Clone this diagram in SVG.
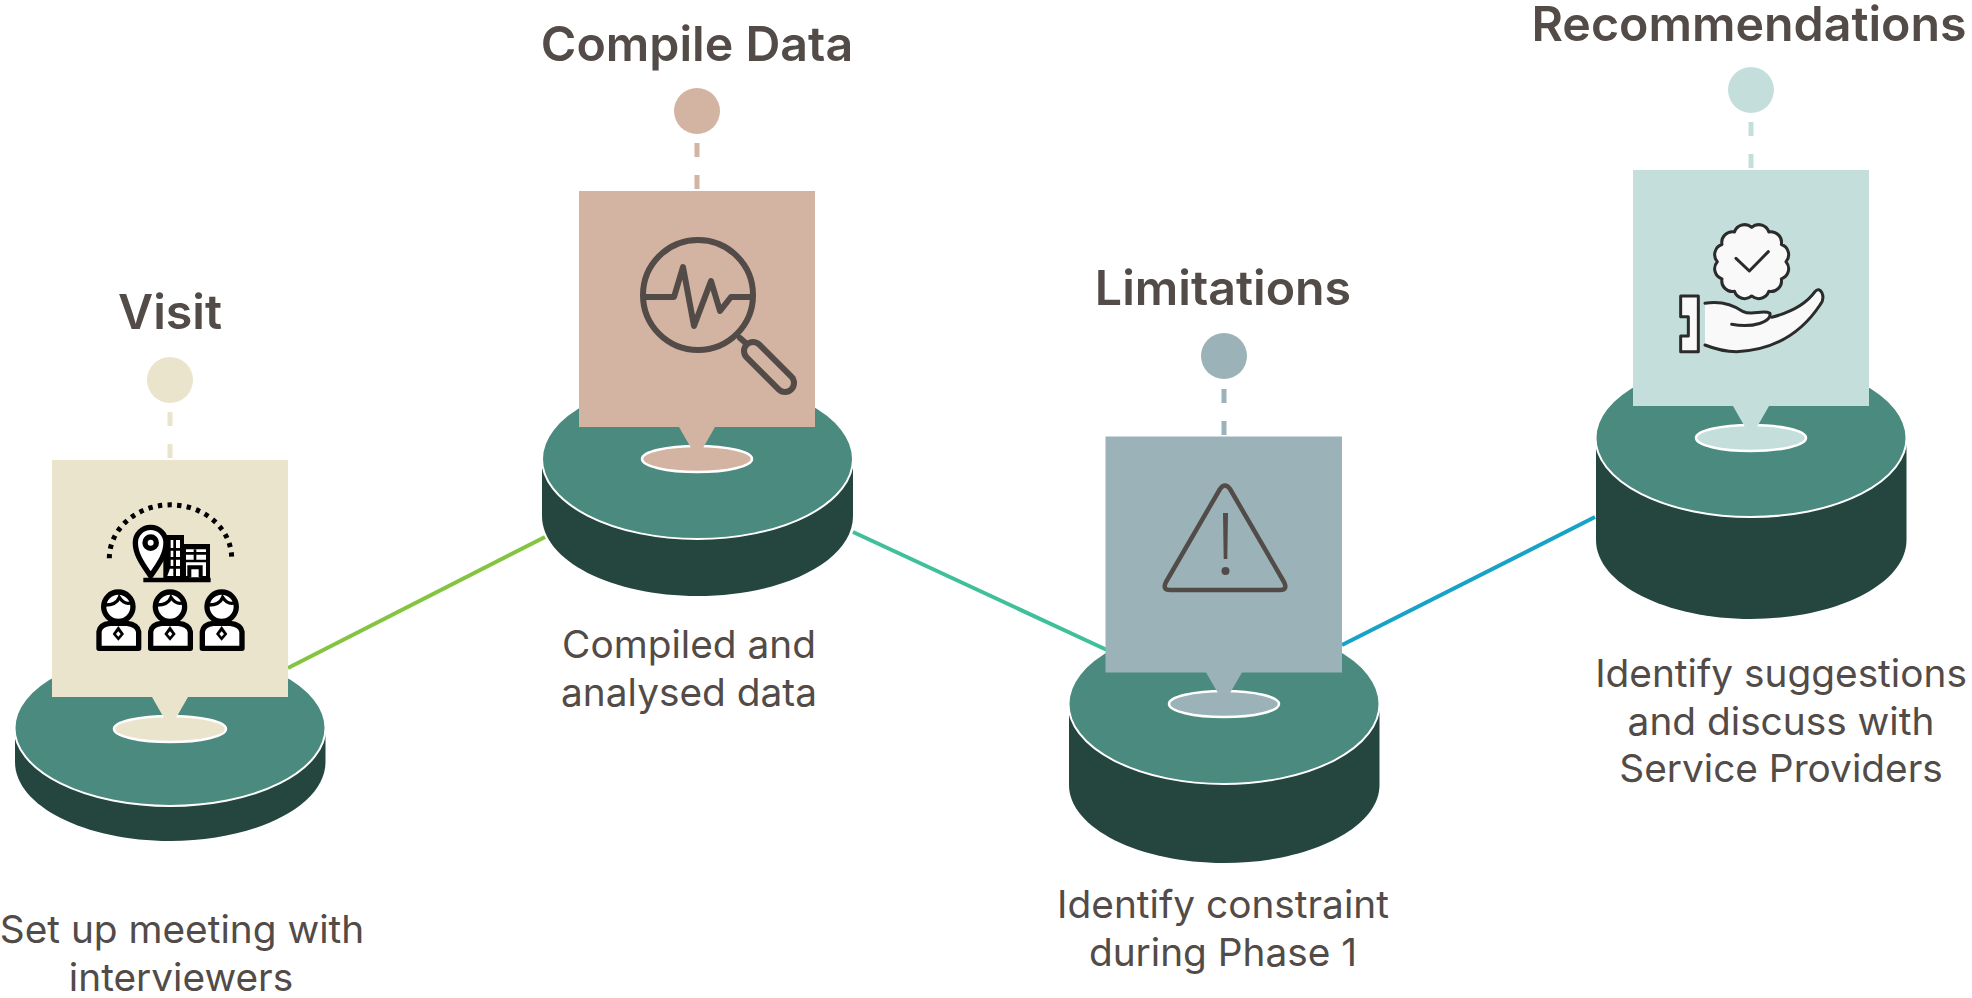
<svg xmlns="http://www.w3.org/2000/svg" width="1972" height="998" viewBox="0 0 1972 998">
<style>
text{font-family:Inter,"Open Sans","Liberation Sans",sans-serif;fill:#524b47;text-anchor:middle}
.t{font-size:48.300px;font-weight:600}
.b{font-size:38.800px;font-weight:400}
.side{fill:#25453f}
.top{fill:#4b8a7f;stroke:#fff;stroke-width:2}
.sm{stroke:#fff;stroke-width:2.5}
.dash{stroke-width:5;stroke-dasharray:14 18;fill:none}
.ln{fill:none;stroke-width:4}
.ic{fill:none;stroke:#524b47;stroke-linecap:round;stroke-linejoin:round}
.k{stroke:#000;stroke-width:16;fill:#fff;stroke-linejoin:round}
.h{stroke:#2b2b2b;stroke-width:9;fill:#f9f9f9;stroke-linejoin:round;stroke-linecap:round}
</style>
<defs>
<g id="person"><circle cx="115" cy="350" r="44" class="k"/><path d="M75 345C95 345 112 338 118 322C128 337 142 343 155 338" style="fill:none;stroke:#000;stroke-width:10"/><path d="M57 475V425Q60 403 90 400H140Q172 403 176 425V475Z" class="k"/><path d="M115 408L132 432L115 452L98 432Z" fill="#000"/><path d="M115 424L122 432L115 440L108 432Z" fill="#fff"/></g>
</defs>
<g id="connectors">
<path class="ln" stroke="#84c441" d="M288 668L545 537"/>
<path class="ln" stroke="#40c09a" d="M853 532L1107 650"/>
<path class="ln" stroke="#17a2c8" d="M1342 645L1595 517"/>
</g>
<g id="visit">
<path class="side" d="M15 728V762C15 806 85 841 170 841S325.500 806 325.500 762V728Z"/>
<ellipse class="top" cx="170" cy="728" rx="155.500" ry="78"/>
<line class="dash" x1="170" y1="412" x2="170" y2="460" stroke="#ebe4cc"/>
<circle cx="170" cy="380" r="23" fill="#ebe4cc"/>
<ellipse class="sm" cx="170" cy="729" rx="56" ry="13" fill="#ebe4cc"/>
<path fill="#ebe4cc" d="M52 460H288V697H188L176 718V722H164V718L152 697H52Z"/>
<g transform="translate(80 490) scale(.3333)">
<path d="M88 205A183 160 0 0 1 455 205" fill="none" stroke="#000" stroke-width="15" stroke-dasharray="13 16"/>
<path d="M250 135H312V162H390V272H250Z" fill="#000"/>
<path d="M272 150H300V258H262L272 230ZM318 178H378V258H318Z" fill="#fff"/>
<path d="M284 150V258M262 178H300M262 205H300M262 232H300M318 190H378M318 213H378M345 178V213" stroke="#000" stroke-width="8" fill="none"/>
<path d="M328 262V232H362V262" stroke="#000" stroke-width="12" fill="#fff"/>
<path d="M190 270H392" stroke="#000" stroke-width="14"/>
<path class="k" d="M212 258C190 225 166 195 166 158A46 46 0 0 1 258 158C258 195 234 225 212 258Z"/>
<circle class="k" cx="212" cy="158" r="17"/>
<use href="#person"/><use href="#person" x="155"/><use href="#person" x="310"/>
</g>
<text class="t" x="170" y="329">Visit</text>
<text class="b" x="182" y="943">Set up meeting with</text>
<text class="b" x="181" y="991">interviewers</text>
</g>
<g id="compile">
<path class="side" d="M542 459V516C542 561 612 596 697.500 596S853 561 853 516V459Z"/>
<ellipse class="top" cx="697.500" cy="459" rx="155.500" ry="80"/>
<line class="dash" x1="697" y1="143" x2="697" y2="191" stroke="#d3b3a2"/>
<circle cx="697" cy="111" r="23" fill="#d3b3a2"/>
<ellipse class="sm" cx="697" cy="459" rx="55" ry="13" fill="#d3b3a2"/>
<path fill="#d3b3a2" d="M579 191H815V427H715L703 448V452H691V448L679 427H579Z"/>
<g class="ic" stroke-width="6">
<circle cx="698" cy="295" r="55"/>
<path d="M645 297H674L683 267L694 326L711 281L720 311L731 297H752"/>
<path d="M740 338L748 345"/>
<path d="M753 351L785 383" stroke-width="24"/>
</g>
<path d="M753 351L785 383" stroke="#d3b3a2" stroke-width="12" stroke-linecap="round"/>
<text class="t" x="697" y="61">Compile Data</text>
<text class="b" x="689" y="658">Compiled and</text>
<text class="b" x="689" y="706">analysed data</text>
</g>
<g id="limitations">
<path class="side" d="M1069 704V785C1069 828 1139 863 1224 863S1379.500 828 1379.500 785V704Z"/>
<ellipse class="top" cx="1224" cy="704" rx="155.500" ry="80"/>
<line class="dash" x1="1224" y1="389" x2="1224" y2="436" stroke="#9ab2b8"/>
<circle cx="1224" cy="356" r="23" fill="#9ab2b8"/>
<ellipse class="sm" cx="1224" cy="704" rx="55" ry="13" fill="#9ab2b8"/>
<path fill="#9ab2b8" d="M1105.500 436.500H1342V672.500H1242L1230 693V697H1218V693L1206 672.500H1105.500Z"/>
<path class="ic" stroke-width="4.500" d="M1220 489Q1225 482 1230 489L1284 582Q1288 590 1280 590H1170Q1162 590 1166 582Z"/>
<path d="M1223 513H1228L1227.300 559H1223.700Z" fill="#524b47"/>
<circle cx="1225.500" cy="571" r="4" fill="#524b47"/>
<text class="t" x="1223" y="305">Limitations</text>
<text class="b" x="1223" y="918">Identify constraint</text>
<text class="b" x="1223" y="966">during Phase 1</text>
</g>
<g id="recommendations">
<path class="side" d="M1596 438V540C1596 584 1666 619 1751 619S1906.500 584 1906.500 540V438Z"/>
<ellipse class="top" cx="1751" cy="438" rx="155.500" ry="79"/>
<line class="dash" x1="1751" y1="122" x2="1751" y2="170" stroke="#c4dfdb"/>
<circle cx="1751" cy="90" r="23" fill="#c4dfdb"/>
<ellipse class="sm" cx="1751" cy="438" rx="55" ry="13" fill="#c4dfdb"/>
<path fill="#c4dfdb" d="M1633 170H1869V406H1769L1757 427V431H1745V427L1733 406H1633Z"/>
<g transform="translate(1660 210) scale(.3333)">
<path class="h" d="M378 155A32 32 0 0 1 364 206.500A32 32 0 0 1 326.500 244A32 32 0 0 1 275 258A32 32 0 0 1 223.500 244A32 32 0 0 1 186 206.500A32 32 0 0 1 172 155A32 32 0 0 1 186 103.500A32 32 0 0 1 223.500 66A32 32 0 0 1 275 52A32 32 0 0 1 326.500 66A32 32 0 0 1 364 103.500A32 32 0 0 1 378 155Z"/>
<path class="h" style="fill:none" d="M228 145L268 183L325 125"/>
<path class="h" d="M62 258H115V425H62V378H85V320H62Z"/>
<path fill="#f9f9f9" d="M135 280C180 272 220 285 250 305C280 318 310 298 330 310L345 322C400 305 440 280 465 245C480 225 500 260 480 285C430 360 350 420 230 425C190 425 160 415 135 405Z"/>
<path class="h" style="fill:none" d="M135 280C180 272 220 285 250 305C275 318 310 298 330 310C335 335 280 355 215 343"/>
<path class="h" style="fill:none" d="M335 322C400 305 440 280 465 245C480 225 500 260 480 285C430 360 350 420 230 425C190 425 160 415 135 405"/>
</g>
<text class="t" x="1749" y="41">Recommendations</text>
<text class="b" x="1781" y="687">Identify suggestions</text>
<text class="b" x="1781" y="735">and discuss with</text>
<text class="b" x="1781" y="782">Service Providers</text>
</g>
</svg>
